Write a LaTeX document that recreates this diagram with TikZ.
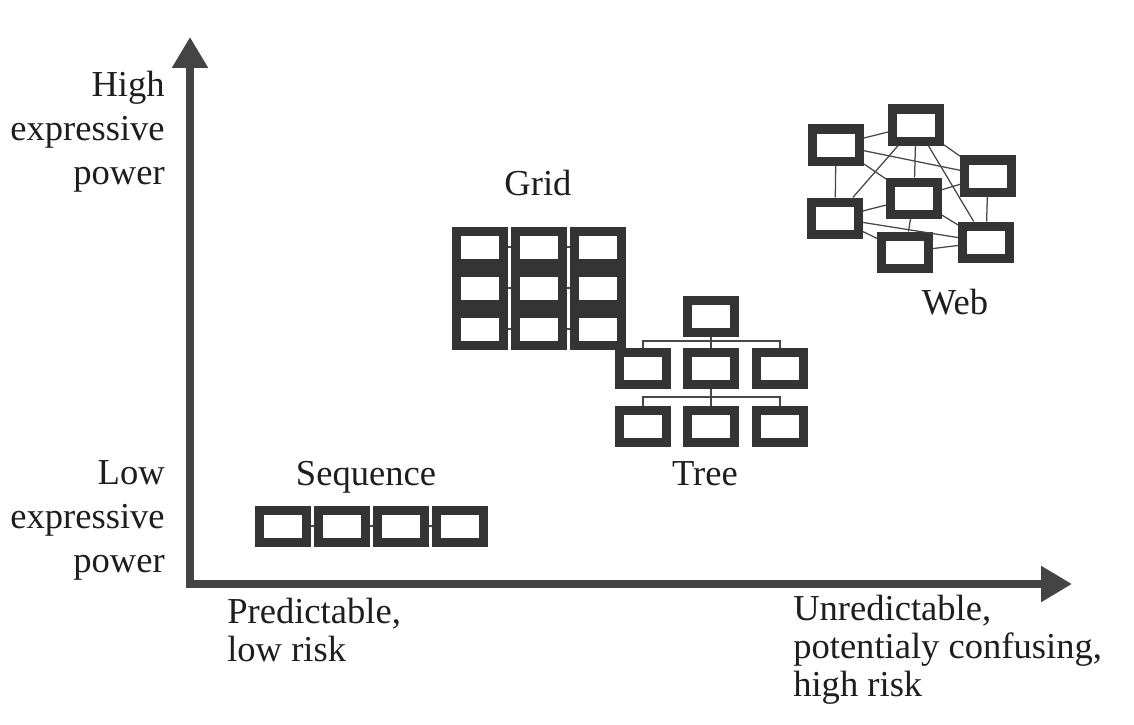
\documentclass[tikz,border=0pt]{standalone}
\usepackage{fontspec}
\setmainfont{Liberation Serif}
\usetikzlibrary{arrows.meta}
\definecolor{boxc}{RGB}{52,52,52}
\definecolor{axc}{RGB}{68,68,68}
\definecolor{linkc}{RGB}{72,72,72}
\definecolor{txtc}{RGB}{30,30,30}
\begin{document}
\begin{tikzpicture}[x=0.025cm,y=-0.025cm,
  cell/.style={draw=boxc, fill=white, line width=0.225cm, minimum width=1.175cm, minimum height=0.8cm, inner sep=0pt},
  link/.style={draw=linkc, line width=0.9pt},
  axis/.style={draw=axc, line width=0.2cm, line join=miter,
    arrows={Triangle[length=0.77cm,width=0.85cm,fill=axc]-Triangle[length=0.77cm,width=0.85cm,fill=axc]}},
  lab/.style={font=\fontsize{26}{31}\selectfont, inner sep=0pt, text=txtc},
  labb/.style={font=\fontsize{26}{27}\selectfont, inner sep=0pt, text=txtc}]
\path[use as bounding box, fill=white] (0,0) rectangle (1134,725);

% axes
\coordinate (ytip) at (190,37);
\coordinate (orig) at (190,584);
\coordinate (xtip) at (1072,584);
\draw[axis] (ytip) -- (orig) -- (xtip);

% axis labels (base anchor = last line's baseline)
\node[lab, align=right, anchor=base east] (high) at (165,184) {High\\expressive\\power};
\node[lab, align=right, anchor=base east] (low) at (165,572) {Low\\expressive\\power};
\node[labb, align=left, anchor=base west] (pred) at (227,661) {Predictable,\\low risk};
\node[labb, align=left, anchor=base west] (unpred) at (793,696) {Unredictable,\\potentialy confusing,\\high risk};

% Sequence
\node[lab, anchor=base] (seqlab) at (366,485) {Sequence};
\foreach \i/\x in {1/283,2/342,3/401,4/460}
  \node[cell] (s\i) at (\x,526) {};
\draw[link] (s1) -- (s2);
\draw[link] (s2) -- (s3);
\draw[link] (s3) -- (s4);

% Grid
\node[lab, anchor=base] (gridlab) at (538,195) {Grid};
\foreach \r/\y in {1/247,2/288,3/329}
  \foreach \c/\x in {1/480,2/539,3/598}
    \node[cell] (g\r\c) at (\x,\y) {};
\foreach \r in {1,2,3} {
  \draw[link] (g\r1) -- (g\r2);
  \draw[link] (g\r2) -- (g\r3);
}

% Tree
\node[cell] (root) at (711,316) {};
\node[cell] (t1) at (643,368) {};
\node[cell] (t2) at (711,368) {};
\node[cell] (t3) at (780,368) {};
\node[cell] (u1) at (643,426) {};
\node[cell] (u2) at (711,426) {};
\node[cell] (u3) at (780,426) {};
\coordinate (bar1) at (711,341);
\coordinate (bar2) at (711,397);
\draw[link] (root) -- (bar1);
\draw[link] (t1.north) |- (bar1) -| (t3.north);
\draw[link] (bar1) -- (t2);
\draw[link] (t2) -- (bar2);
\draw[link] (u1.north) |- (bar2) -| (u3.north);
\draw[link] (bar2) -- (u2);
\node[lab, anchor=base] (treelab) at (705,485) {Tree};

% Web
\node[cell] (wa) at (836,145) {};
\node[cell] (wb) at (916,125) {};
\node[cell] (wc) at (988,176) {};
\node[cell] (wd) at (914,198) {};
\node[cell] (we) at (835,218) {};
\node[cell] (wf) at (905,252) {};
\node[cell] (wg) at (986,242) {};
\foreach \p/\q in {wa/wb,wa/wc,wa/wd,wa/we,wb/we,wb/wd,wb/wg,wb/wc,wd/wc,wd/wg,wd/wf,we/wd,we/wg,we/wf,wf/wg,wc/wg}
  \draw[link] (\p) -- (\q);
\node[lab, anchor=base] (weblab) at (955,314) {Web};
\end{tikzpicture}
\end{document}
